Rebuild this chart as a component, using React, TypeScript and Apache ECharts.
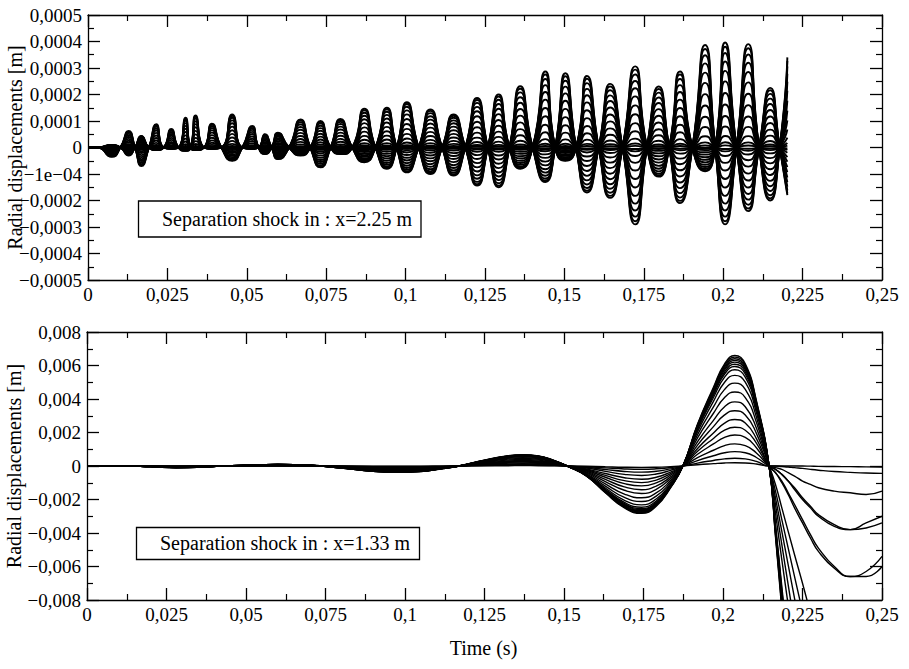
import React, { useEffect, useRef } from "react";
import * as echarts from "echarts";

// ---------- Top panel (x = 2.25 m): oscillation lobes ----------
// zero crossings before each lobe (s)
const TOP_CROSS_T = [0.003, 0.0102, 0.0148, 0.0192, 0.0238, 0.0285, 0.0323, 0.0365, 0.042, 0.0486, 0.0537, 0.0578, 0.0633, 0.07, 0.0764, 0.0832, 0.0905, 0.0972, 0.1041, 0.1115, 0.1188, 0.1259, 0.1327, 0.14, 0.1471, 0.1537, 0.1608, 0.1683, 0.176, 0.183, 0.1903, 0.1975, 0.2042, 0.2113, 0.2178];
// lobe centre times (s)
const TOP_LOBE_T = [0.0075, 0.0128, 0.0168, 0.0215, 0.0262, 0.0307, 0.0339, 0.039, 0.0454, 0.0517, 0.0557, 0.0598, 0.0669, 0.0732, 0.0795, 0.087, 0.0941, 0.1004, 0.1078, 0.1151, 0.1225, 0.1293, 0.1361, 0.144, 0.1503, 0.1571, 0.1644, 0.1723, 0.1797, 0.1864, 0.1943, 0.2006, 0.2079, 0.2148, 0.2202];
// outer positive peak of each lobe (m)
const TOP_UP = [0.00001, 0.0000625, 0.000044, 0.0000875, 0.00007, 0.000112, 0.000121, 0.00009, 0.000125, 0.000081, 0.00005, 0.000056, 0.000106, 0.0001, 0.000108, 0.000146, 0.00015, 0.000171, 0.000144, 0.000125, 0.000187, 0.0002, 0.000231, 0.000287, 0.00028, 0.00027, 0.00024, 0.000306, 0.00023, 0.000287, 0.000387, 0.000396, 0.00039, 0.000225, 0.00034];
// outer negative peak of each lobe (m)
const TOP_DN = [-0.000035, -0.00003, -0.00007, -0.00001, -0.000005, -0.0000125, -0.00001, -0.000005, -0.00005, -0.000005, -0.000025, -0.000044, -0.00003, -0.000075, -0.000025, -0.000056, -0.00008, -0.000094, -0.0001, -0.000106, -0.000144, -0.00015, -0.00008, -0.00013, -0.00005, -0.00017, -0.00019, -0.00029, -0.00011, -0.00021, -0.00009, -0.00029, -0.00024, -0.0002, -0.00018];
// relative amplitude of each plotted curve
const TOP_FRACTIONS = [1, 0.96, 0.9, 0.82, 0.73, 0.63, 0.52, 0.41, 0.3, 0.2, 0.11, 0.05, 0.02];

// ---------- Bottom panel (x = 1.33 m) ----------
const BOT_T = [0, 0.01, 0.02, 0.028, 0.038, 0.048, 0.06, 0.07, 0.08, 0.09, 0.097, 0.105, 0.112, 0.117, 0.125, 0.132, 0.137, 0.142, 0.147, 0.151, 0.157, 0.163, 0.169, 0.1744, 0.179, 0.1835, 0.1874, 0.192, 0.197, 0.2005, 0.2037, 0.207, 0.2105];
const BOT_OUTER = [0, 0, -0.00004, -0.0001, -0.00005, 0.00003, 0.0001, 0.00005, -0.00012, -0.00032, -0.00038, -0.00033, -0.00015, 0, 0.00035, 0.0006, 0.00067, 0.0006, 0.00032, 0, -0.0006, -0.0016, -0.0025, -0.00283, -0.0024, -0.0013, 0, 0.0025, 0.0047, 0.0061, 0.0066, 0.0061, 0.0039];
const BOT_FRACTIONS = [1, 0.985, 0.97, 0.955, 0.94, 0.92, 0.9, 0.87, 0.82, 0.75, 0.67, 0.58, 0.5, 0.42, 0.35, 0.28, 0.2, 0.13, 0.07, 0.03];
const TAIL_T = [0.2145, 0.2165, 0.2185, 0.2205, 0.2225, 0.225, 0.2275, 0.23, 0.235, 0.24, 0.245, 0.25];
const BOT_TAILS = [
  [0, -0.0042, -0.0086, -0.013],
  [0, -0.0041, -0.0084, -0.0127],
  [0, -0.004, -0.0082, -0.0124],
  [0, -0.0039, -0.008, -0.0121],
  [0, -0.0038, -0.0078, -0.0118],
  [0, -0.0037, -0.0076, -0.0115],
  [0, -0.0036, -0.0074, -0.0112],
  [0, -0.0035, -0.0072, -0.0109],
  [0, -0.0028, -0.0056, -0.0083, -0.011],
  [0, -0.0023, -0.0047, -0.0071, -0.0095],
  [0, -0.0019, -0.0039, -0.0059, -0.0079, -0.0104],
  [0, -0.0015, -0.0032, -0.0049, -0.0066, -0.0087],
  [0, -0.0011, -0.0025, -0.0039, -0.0053, -0.007, -0.0088],
  [0, -0.0004, -0.001, -0.0017, -0.0025, -0.0034, -0.0043, -0.0051, -0.0061, -0.0066, -0.0063, -0.0054],
  [0, -0.0004, -0.0009, -0.0016, -0.0023, -0.0032, -0.0041, -0.0049, -0.006, -0.0066, -0.0066, -0.006],
  [0, -0.0002, -0.0005, -0.0009, -0.0014, -0.002, -0.0025, -0.003, -0.0036, -0.0038, -0.0034, -0.003],
  [0, -0.0002, -0.0005, -0.0009, -0.0013, -0.0019, -0.0024, -0.0029, -0.0035, -0.0038, -0.0037, -0.0034],
  [0, -0.0001, -0.0002, -0.0004, -0.0006, -0.0009, -0.0011, -0.0013, -0.0015, -0.0016, -0.0017, -0.0015],
  [0, 0, -0.00003, -0.00006, -0.0001, -0.00014, -0.0002, -0.00025, -0.00033, -0.00038, -0.00042, -0.00044],
  [0, 0, 0, 0, 0, 0, -0.00001, -0.00002, -0.00003, -0.00004, -0.00005, -0.00006],
];

const TOP_LABEL = "Separation shock in : x=2.25 m";
const BOT_LABEL = "Separation shock in : x=1.33 m";
const Y_TITLE = "Radial displacements [m]";
const X_TITLE = "Time (s)";

const FONT = "'Liberation Serif', 'Times New Roman', serif";
const MINUS = "\u2212";

const fmtX = (v: number) => String(Math.round(v * 1000) / 1000).replace(".", ",");
const fmtTopY = (v: number) => {
  const k = Math.round(v * 1e4);
  if (k === 0) return "0";
  if (k === -1) return MINUS + "1e" + MINUS + "04";
  return (k < 0 ? MINUS : "") + "0,000" + Math.abs(k);
};
const fmtBotY = (v: number) => {
  const k = Math.round(v * 1000);
  if (k === 0) return "0";
  return (k < 0 ? MINUS : "") + "0,00" + Math.abs(k);
};

function buildSeries() {
  const series: any[] = [];
  const base = {
    type: "line",
    showSymbol: false,
    symbol: "none",
    silent: true,
    clip: true,
  };
  TOP_FRACTIONS.forEach((f) => {
    [0, 1].forEach((p) => {
      const data: number[][] = [[0, 0]];
      TOP_LOBE_T.forEach((t, j) => {
        data.push([TOP_CROSS_T[j], 0]);
        const v = (j + p) % 2 === 0 ? TOP_UP[j] : TOP_DN[j];
        data.push([t, f * v]);
      });
      series.push({
        ...base,
        smooth: 0.62,
        xAxisIndex: 0,
        yAxisIndex: 0,
        data,
        lineStyle: { color: "#000", width: 1.9 },
      });
    });
  });
  BOT_FRACTIONS.forEach((f, i) => {
    const data: number[][] = BOT_T.map((t, j) => [t, f * BOT_OUTER[j]]);
    BOT_TAILS[i].forEach((v, j) => data.push([TAIL_T[j], v]));
    series.push({
      ...base,
      smooth: 0.5,
      xAxisIndex: 2,
      yAxisIndex: 2,
      data,
      lineStyle: { color: "#000", width: 1.4 },
    });
  });
  return series;
}

function xAxisDef(grid: number, pos: string, labels: boolean) {
  return {
    type: "value",
    gridIndex: grid,
    position: pos,
    min: 0,
    max: 0.25,
    interval: 0.025,
    axisLine: { show: true, onZero: false, lineStyle: { color: "#000", width: 1.3 } },
    axisTick: { show: true, inside: true, length: 12, lineStyle: { color: "#000", width: 1.3 } },
    minorTick: { show: true, splitNumber: 2, length: 6, lineStyle: { color: "#000", width: 1.2 } },
    splitLine: { show: false },
    axisLabel: {
      show: labels,
      margin: 5,
      color: "#000",
      fontFamily: FONT,
      fontSize: 19,
      formatter: fmtX,
    },
  };
}

function yAxisDef(grid: number, pos: string, labels: boolean, min: number, max: number, interval: number, fmt: any) {
  const ax: any = {
    type: "value",
    gridIndex: grid,
    position: pos,
    min,
    max,
    interval,
    axisLine: { show: true, onZero: false, lineStyle: { color: "#000", width: 1.3 } },
    axisTick: { show: true, inside: true, length: 12, lineStyle: { color: "#000", width: 1.3 } },
    minorTick: { show: true, splitNumber: 2, length: 6, lineStyle: { color: "#000", width: 1.2 } },
    splitLine: { show: false },
    axisLabel: {
      show: labels,
      margin: 6,
      color: "#000",
      fontFamily: FONT,
      fontSize: 19,
      formatter: fmt,
    },
  };
  if (labels) {
    ax.name = Y_TITLE;
    ax.nameLocation = "middle";
    ax.nameGap = 63;
    ax.nameMoveOverlap = false;
    ax.nameTextStyle = { color: "#000", fontFamily: FONT, fontSize: 20 };
  }
  return ax;
}

export default function App() {
  const ref = useRef<HTMLDivElement>(null);
  useEffect(() => {
    if (!ref.current) return;
    const chart = echarts.init(ref.current, null, { renderer: "svg" });
    const option: any = {
      animation: false,
      backgroundColor: "#fff",
      grid: [
        { left: 88, top: 15, width: 794, height: 265, containLabel: false, outerBoundsMode: "none" },
        { left: 87, top: 332, width: 795, height: 268, containLabel: false, outerBoundsMode: "none" },
      ],
      xAxis: [
        xAxisDef(0, "bottom", true),
        xAxisDef(0, "top", false),
        xAxisDef(1, "bottom", true),
        xAxisDef(1, "top", false),
      ],
      yAxis: [
        yAxisDef(0, "left", true, -0.0005, 0.0005, 0.0001, fmtTopY),
        yAxisDef(0, "right", false, -0.0005, 0.0005, 0.0001, fmtTopY),
        yAxisDef(1, "left", true, -0.008, 0.008, 0.002, fmtBotY),
        yAxisDef(1, "right", false, -0.008, 0.008, 0.002, fmtBotY),
      ],
      series: buildSeries(),
      graphic: [
        {
          type: "rect",
          shape: { x: 138.5, y: 201, width: 282.5, height: 36 },
          style: { fill: "#fff", stroke: "#000", lineWidth: 1.3 },
          z: 100,
        },
        {
          type: "text",
          x: 162,
          y: 219,
          style: { text: TOP_LABEL, fill: "#000", font: `20px ${FONT}`, verticalAlign: "middle", align: "left" },
          z: 101,
        },
        {
          type: "rect",
          shape: { x: 136.5, y: 527.5, width: 283, height: 32 },
          style: { fill: "#fff", stroke: "#000", lineWidth: 1.3 },
          z: 100,
        },
        {
          type: "text",
          x: 160,
          y: 543,
          style: { text: BOT_LABEL, fill: "#000", font: `20px ${FONT}`, verticalAlign: "middle", align: "left" },
          z: 101,
        },
        {
          type: "text",
          x: 483.5,
          y: 648,
          style: { text: X_TITLE, fill: "#000", font: `20px ${FONT}`, verticalAlign: "middle", align: "center" },
          z: 101,
        },
      ],
    };
    chart.setOption(option);
    return () => chart.dispose();
  }, []);
  return (
    <div
      ref={ref}
      style={{ position: "absolute", left: 0, top: 0, width: 909, height: 669, background: "#fff" }}
    />
  );
}
